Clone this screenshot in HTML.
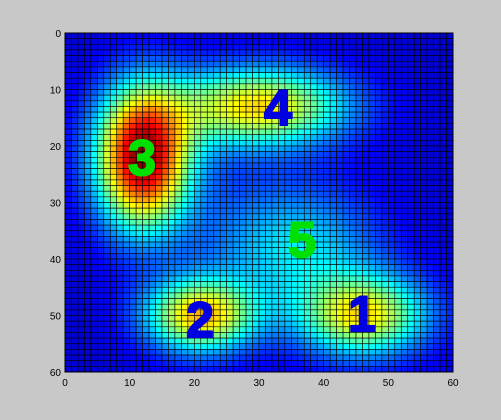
<!DOCTYPE html>
<html><head><meta charset="utf-8"><style>
html,body{margin:0;padding:0;background:#c8c8c8;}
svg{display:block;font-family:"Liberation Sans",sans-serif;}
</style></head><body>
<svg id="chart" width="501" height="420" xmlns="http://www.w3.org/2000/svg">
<rect width="501" height="420" fill="#c8c8c8"/>
<g id="cells"></g>
<rect x="65" y="33" width="388" height="339" fill="none" stroke="#000" stroke-width="1"/>
<g id="ticks" font-size="10" fill="#000"></g>
<g font-weight="bold" font-size="50" text-anchor="middle" stroke-width="2">
<text x="142" y="175" fill="#00e000" stroke="#00e000">3</text>
<text x="278" y="125" fill="#0000e0" stroke="#0000e0">4</text>
<text x="302" y="257" fill="#00e000" stroke="#00e000">5</text>
<text x="200" y="337" fill="#0000e0" stroke="#0000e0">2</text>
<text x="362" y="331" fill="#0000e0" stroke="#0000e0">1</text>
</g>
</svg>
<script>
const blobX=[12,30,21,46,36,28];
const blobY=[22,13,50,50,38,30];
const blobAmp=[0.9,0.56,0.6,0.55,0.23,0.06];
const blobSX=[5,9.5,6,7,9,12];
const blobSY=[8.5,4.8,4.5,5,7,12];
const baseLevel=[0.08];
const xTicks=[0,10,20,30,40,50,60];
const yTicks=[0,10,20,30,40,50,60];
const N=60;
const X0=65,X1=453,Y0=33,Y1=372;
const sx=v=>X0+(v/N)*(X1-X0);
const sy=v=>Y0+(v/N)*(Y1-Y0);
function jet(t){
  t=Math.max(0,Math.min(1,t));
  const f=(c)=>Math.max(0,Math.min(1,1.5-Math.abs(4*t-c)));
  const r=f(3),g=f(2),b=f(1);
  return `rgb(${Math.round(r*255)},${Math.round(g*255)},${Math.round(b*255)})`;
}
const ns="http://www.w3.org/2000/svg";
const cells=document.getElementById('cells');
for(let j=0;j<N;j++){for(let i=0;i<N;i++){
  const cx=i+0.5,cy=j+0.5;
  let v=baseLevel[0];
  for(let k=0;k<blobX.length;k++){
    v+=blobAmp[k]*Math.exp(-((cx-blobX[k])**2/(2*blobSX[k]**2)+(cy-blobY[k])**2/(2*blobSY[k]**2)));
  }
  const r=document.createElementNS(ns,'rect');
  r.setAttribute('x',sx(i));r.setAttribute('y',sy(j));
  r.setAttribute('width',sx(i+1)-sx(i));r.setAttribute('height',sy(j+1)-sy(j));
  r.setAttribute('fill',jet(v));r.setAttribute('stroke','#000');r.setAttribute('stroke-width','0.6');
  
  
  cells.appendChild(r);
}}
const tk=document.getElementById('ticks');
xTicks.forEach(v=>{
  const t=document.createElementNS(ns,'text');
  t.setAttribute('x',sx(v));t.setAttribute('y',386);t.setAttribute('text-anchor','middle');
  t.textContent=v;
  
  
  tk.appendChild(t);
});
yTicks.forEach(v=>{
  const t=document.createElementNS(ns,'text');
  t.setAttribute('x',61);t.setAttribute('y',sy(v)+4);t.setAttribute('text-anchor','end');
  t.textContent=v;
  
  
  tk.appendChild(t);
});
</script>
</body></html>
